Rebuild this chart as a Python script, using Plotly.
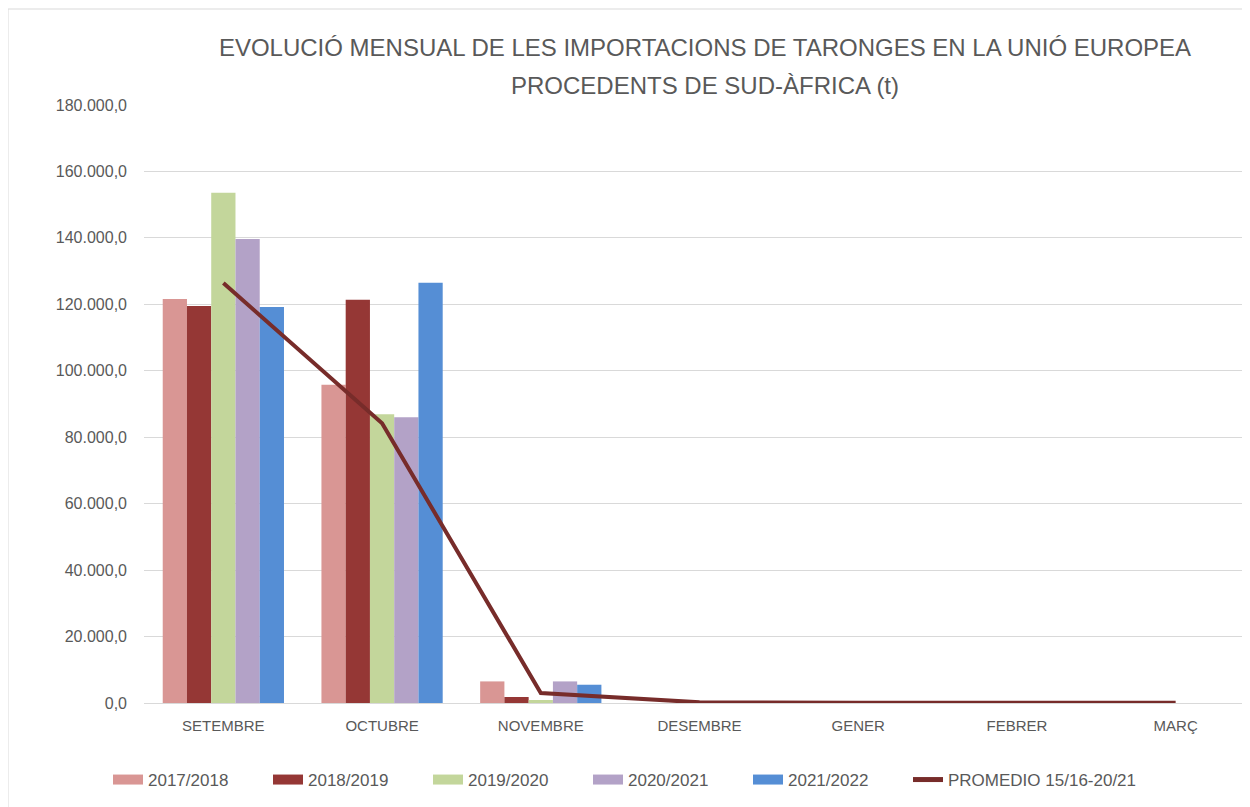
import plotly.graph_objects as go

months = ["SETEMBRE", "OCTUBRE", "NOVEMBRE", "DESEMBRE", "GENER", "FEBRER", "MARÇ"]

s2017 = [121600, 95800, 6500, None, None, None, None]
s2018 = [119500, 121400, 1800, None, None, None, None]
s2019 = [153600, 86900, 900, None, None, None, None]
s2020 = [139700, 86000, 6500, None, None, None, None]
s2021 = [119200, 126500, 5500, None, None, None, None]
promedio = [126400, 84200, 3000, 200, 100, 100, 100]

series = [
    ("2017/2018", s2017, "#D99694"),
    ("2018/2019", s2018, "#953735"),
    ("2019/2020", s2019, "#C3D69B"),
    ("2020/2021", s2020, "#B3A2C7"),
    ("2021/2022", s2021, "#558ED5"),
]
line_name = "PROMEDIO 15/16-20/21"
line_col = "#772C2A"

fig = go.Figure()
for name, vals, col in series:
    fig.add_trace(go.Bar(x=months, y=vals, name=name, marker_color=col,
                         marker_line_width=0, showlegend=False))

fig.add_trace(go.Scatter(x=months, y=promedio, name=line_name, showlegend=False,
                         mode="lines", line=dict(color=line_col, width=4)))

# legend entries (wide swatches like the original)
for name, vals, col in series:
    fig.add_trace(go.Scatter(x=[None], y=[None], name=name, mode="lines",
                             line=dict(color=col, width=12)))
fig.add_trace(go.Scatter(x=[None], y=[None], name=line_name, mode="lines",
                         line=dict(color=line_col, width=5), legendwidth=230))

fig.update_layout(
    width=1250, height=807,
    paper_bgcolor="white", plot_bgcolor="white",
    font=dict(family="Liberation Sans, Arial, sans-serif", color="#595959", size=15),
    title=dict(text="EVOLUCIÓ MENSUAL DE LES IMPORTACIONS DE TARONGES EN LA UNIÓ EUROPEA",
               x=0.5576, xanchor="center", y=1 - 40 / 807, yanchor="middle",
               font=dict(size=24, color="#595959")),
    annotations=[dict(text="PROCEDENTS DE SUD-ÀFRICA (t)", xref="paper", yref="paper",
                      x=0.505, y=1 + (97 - 77) / 598, xanchor="center", yanchor="middle",
                      showarrow=False, font=dict(size=24, color="#595959"))],
    separators=",.",
    barmode="group", bargap=0.236, bargroupgap=0,
    margin=dict(l=136, r=3, t=97, b=112),
    legend=dict(orientation="h", x=-0.0324, xanchor="left", y=-(772 - 695) / 598, yanchor="middle",
                font=dict(size=17, color="#595959"), entrywidth=115, traceorder="normal"),
    shapes=[dict(type="rect", xref="paper", yref="paper", x0=-0.1224, x1=1.0018,
                 y0=-0.3, y1=1 + 96 / 598, line=dict(color="#D9D9D9", width=1))],
)
fig.update_yaxes(range=[0, 180000], dtick=20000, tickformat=",.1f", gridcolor="#D9D9D9",
                 gridwidth=1, zeroline=False, showline=False, ticks="", ticklabelstandoff=16,
                 tickfont=dict(size=16))
fig.update_xaxes(showline=True, linecolor="#D9D9D9", linewidth=1, ticks="",
                 tickfont=dict(size=15), ticklabelstandoff=9)

fig.write_html("out.html")
